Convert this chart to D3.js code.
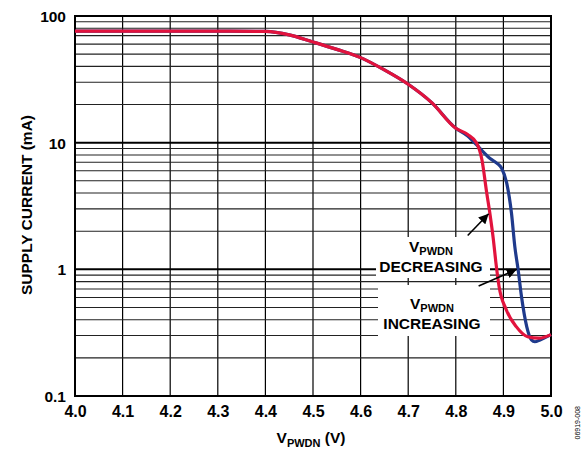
<!DOCTYPE html>
<html>
<head>
<meta charset="utf-8">
<script src="https://cdn.jsdelivr.net/npm/d3@7"></script>
<style>
  html, body { margin: 0; padding: 0; background: #fff; }
  svg { display: block; }
  text { font-family: "Liberation Sans", Arial, Helvetica, sans-serif; font-weight: bold; fill: #000; }
</style>
</head>
<body>
<svg id="chart" width="582" height="452"></svg>
<script>
// ---- data ----
const xTicks = [4.0, 4.1, 4.2, 4.3, 4.4, 4.5, 4.6, 4.7, 4.8, 4.9, 5.0];
const yTicks = [0.1, 1, 10, 100];
const yTickLabels = ["0.1", "1", "10", "100"];

// V_PWDN decreasing (red)
const decX = [4.0, 4.1, 4.2, 4.3, 4.4, 4.45, 4.5, 4.55, 4.6, 4.65, 4.7, 4.75, 4.8, 4.825, 4.844, 4.855, 4.865, 4.872, 4.879, 4.884, 4.891, 4.906, 4.927, 4.951, 4.975, 5.0];
const decY = [76, 76, 76, 76, 75.5, 71, 62.4, 54.5, 46.9, 37.5, 28.9, 20.6, 13.0, 11.6, 9.9, 7.3, 4.0, 2.7, 1.71, 1.15, 0.73, 0.48, 0.353, 0.294, 0.286, 0.305];

// V_PWDN increasing (blue)
const incX = [4.0, 4.1, 4.2, 4.3, 4.4, 4.45, 4.5, 4.55, 4.6, 4.65, 4.7, 4.75, 4.8, 4.825, 4.844, 4.857, 4.872, 4.886, 4.896, 4.907, 4.917, 4.924, 4.931, 4.938, 4.949, 4.959, 4.966, 4.977, 5.0];
const incY = [76, 76, 76, 76, 75.5, 71, 62.4, 54.5, 46.9, 37.5, 28.9, 20.6, 13.0, 11.3, 9.6, 8.5, 7.5, 6.9, 6.3, 4.8, 2.77, 1.51, 0.99, 0.61, 0.353, 0.277, 0.268, 0.277, 0.305];

const minorDecades = [0.1, 1, 10];
const minorSteps = [2, 3, 4, 5, 6, 7, 8, 9];

// ---- layout ----
const svg = d3.select("#chart");
const L = 75, R = 551, T = 16, B = 396;

const x = d3.scaleLinear().domain([4.0, 5.0]).range([L, R]);
const y = d3.scaleLog().domain([0.1, 100]).range([B, T]);

const g = svg.append("g");

// vertical grid
g.selectAll("line.vg").data(xTicks.slice(1, -1)).enter().append("line")
  .attr("x1", d => x(d)).attr("x2", d => x(d))
  .attr("y1", T).attr("y2", B)
  .attr("stroke", "#000").attr("stroke-width", 1.2);

// minor horizontal grid
const minorVals = [];
minorDecades.forEach(dec => minorSteps.forEach(s => minorVals.push(dec * s)));
g.selectAll("line.hm").data(minorVals).enter().append("line")
  .attr("x1", L).attr("x2", R)
  .attr("y1", d => y(d)).attr("y2", d => y(d))
  .attr("stroke", "#222").attr("stroke-width", 1.1);

// major horizontal grid
g.selectAll("line.hM").data(yTicks).enter().append("line")
  .attr("x1", L).attr("x2", R)
  .attr("y1", d => y(d)).attr("y2", d => y(d))
  .attr("stroke", "#000").attr("stroke-width", 2);

// border
g.append("rect").attr("x", L).attr("y", T).attr("width", R - L).attr("height", B - T)
  .attr("fill", "none").attr("stroke", "#000").attr("stroke-width", 2);

// white label boxes (cover grid)
g.append("rect").attr("x", 376).attr("y", 237).attr("width", 114).attr("height", 41).attr("fill", "#fff");
g.append("rect").attr("x", 378).attr("y", 285).attr("width", 112).attr("height", 51).attr("fill", "#fff");

// curves
const line = d3.line().x(d => x(d[0])).y(d => y(d[1])).curve(d3.curveMonotoneX);
const incData = incX.map((v, i) => [v, incY[i]]);
const decData = decX.map((v, i) => [v, decY[i]]);

g.append("path").datum(incData).attr("d", line)
  .attr("fill", "none").attr("stroke", "#1f3a8c").attr("stroke-width", 3.2).attr("stroke-linejoin", "round");
g.append("path").datum(decData).attr("d", line)
  .attr("fill", "none").attr("stroke", "#e2133d").attr("stroke-width", 3.2).attr("stroke-linejoin", "round");

// axis tick labels
const xAxis = d3.axisBottom(x).tickValues(xTicks).tickFormat(d3.format(".1f")).tickSize(0).tickPadding(0);
const xa = svg.append("g").attr("transform", `translate(0,${B})`).call(xAxis);
xa.select(".domain").remove();
xa.selectAll("text").attr("dy", null).attr("y", 21).style("font-size", "16px")
  .style("font-family", '"Liberation Sans", Arial, sans-serif').style("font-weight", "bold").attr("fill", "#000");

const yAxis = d3.axisLeft(y).tickValues(yTicks).tickFormat((d, i) => yTickLabels[i]).tickSize(0).tickPadding(0);
const ya = svg.append("g").attr("transform", `translate(${L - 9},0)`).call(yAxis);
ya.select(".domain").remove();
ya.selectAll("text").attr("dy", "0.36em").style("font-size", "15.5px")
  .style("font-family", '"Liberation Sans", Arial, sans-serif').style("font-weight", "bold").attr("fill", "#000");

// axis titles
const xt = svg.append("text").attr("x", 311).attr("y", 443).attr("text-anchor", "middle").style("font-size", "15.5px");
xt.append("tspan").text("V");
xt.append("tspan").attr("dy", 4).style("font-size", "11px").text("PWDN");
xt.append("tspan").attr("dy", -4).text(" (V)");

svg.append("text").attr("transform", "translate(32,205) rotate(-90)")
  .attr("text-anchor", "middle").style("font-size", "15.5px").text("SUPPLY CURRENT (mA)");

// annotations
function label(cx, y1, y2, word) {
  const t = svg.append("text").attr("x", cx).attr("y", y1).attr("text-anchor", "middle").style("font-size", "15.5px");
  t.append("tspan").text("V");
  t.append("tspan").attr("dy", 3).style("font-size", "11px").text("PWDN");
  svg.append("text").attr("x", cx).attr("y", y2).attr("text-anchor", "middle").style("font-size", "15.5px").text(word);
}
label(431, 252, 272, "DECREASING");
label(432, 309, 329, "INCREASING");

// arrows
const defs = svg.append("defs");
defs.append("marker").attr("id", "ah").attr("viewBox", "0 0 10 10").attr("refX", 10).attr("refY", 5)
  .attr("markerWidth", 10).attr("markerHeight", 10).attr("markerUnits", "userSpaceOnUse").attr("orient", "auto")
  .append("path").attr("d", "M0,0 L10,5 L0,10 Z").attr("fill", "#000");
function arrow(xv1, yv1, xv2, yv2) {
  svg.append("line").attr("x1", x(xv1)).attr("y1", y(yv1)).attr("x2", x(xv2)).attr("y2", y(yv2))
    .attr("stroke", "#000").attr("stroke-width", 1.6).attr("marker-end", "url(#ah)");
}
arrow(4.825, 1.85, 4.869, 2.75);
arrow(4.848, 0.74, 4.928, 1.0);

// figure code
svg.append("text").attr("transform", "translate(580,406) rotate(-90)")
  .attr("text-anchor", "end").style("font-size", "7px").style("font-weight", "normal")
  .attr("fill", "#777").text("06919-008");
</script>
</body>
</html>
